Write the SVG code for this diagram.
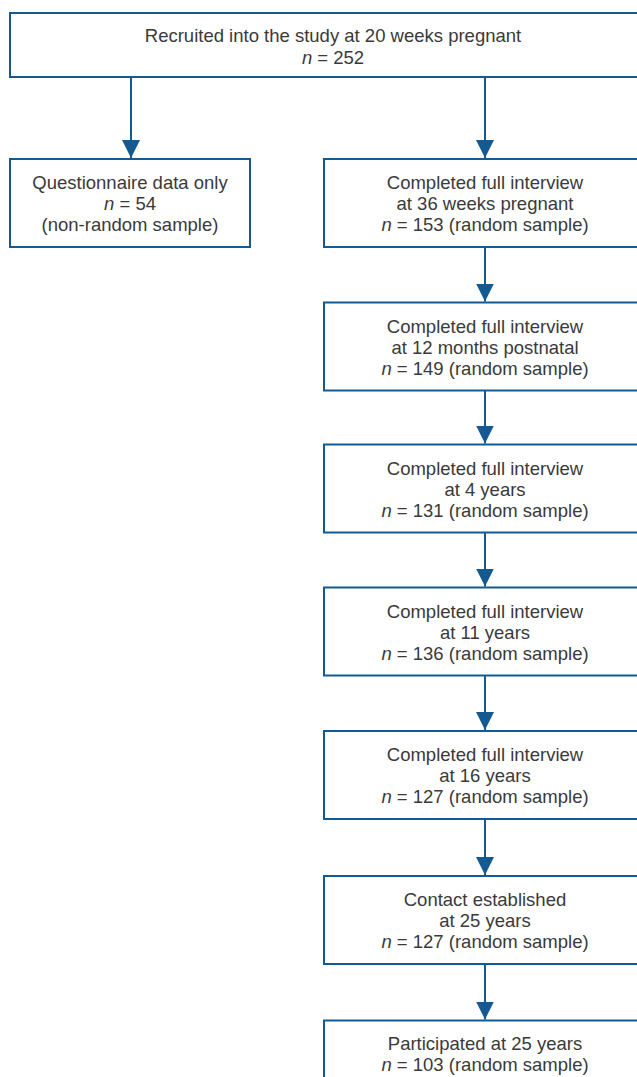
<svg xmlns="http://www.w3.org/2000/svg" width="637" height="1077" viewBox="0 0 637 1077">
<style>
.box{fill:#fff;stroke:#135a92;stroke-width:2}
.t{font-family:"Liberation Sans",Arial,sans-serif;font-size:18.5px;fill:#3a3a3a;text-anchor:middle}
.i{font-style:italic}
.c{stroke:#135a92;stroke-width:2;fill:none;marker-end:url(#ah)}
</style>
<defs>
<marker id="ah" markerUnits="userSpaceOnUse" markerWidth="18" markerHeight="18" refX="16" refY="8" orient="auto" viewBox="0 0 16 16">
<path d="M0,0 L16,8 L0,16 Z" fill="#135a92"/>
</marker>
</defs>
<rect width="637" height="1077" fill="#fff"/>
<g id="connectors">
<path class="c" d="M131,77 V158"/>
<path class="c" d="M485,77 V158"/>
<path class="c" d="M485,247 V301.5"/>
<path class="c" d="M485,390.5 V443.5"/>
<path class="c" d="M485,532.5 V586.5"/>
<path class="c" d="M485,675.5 V730"/>
<path class="c" d="M485,819 V875"/>
<path class="c" d="M485,964 V1019.5"/>
</g>
<g id="n0">
<rect class="box" x="10" y="13" width="646" height="64"/>
<text class="t" x="333" y="42">Recruited into the study at 20 weeks pregnant</text>
<text class="t" x="333" y="64"><tspan class="i">n</tspan> = 252</text>
</g>
<g id="n1">
<rect class="box" x="10" y="159" width="240" height="88"/>
<text class="t" x="130" y="189">Questionnaire data only</text>
<text class="t" x="130" y="210"><tspan class="i">n</tspan> = 54</text>
<text class="t" x="130" y="231">(non-random sample)</text>
</g>
<g id="n2">
<rect class="box" x="324" y="159" width="322" height="88"/>
<text class="t" x="485" y="189">Completed full interview</text>
<text class="t" x="485" y="210">at 36 weeks pregnant</text>
<text class="t" x="485" y="231"><tspan class="i">n</tspan> = 153 (random sample)</text>
</g>
<g id="n3">
<rect class="box" x="324" y="302.5" width="322" height="88"/>
<text class="t" x="485" y="332.5">Completed full interview</text>
<text class="t" x="485" y="353.5">at 12 months postnatal</text>
<text class="t" x="485" y="374.5"><tspan class="i">n</tspan> = 149 (random sample)</text>
</g>
<g id="n4">
<rect class="box" x="324" y="444.5" width="322" height="88"/>
<text class="t" x="485" y="474.5">Completed full interview</text>
<text class="t" x="485" y="495.5">at 4 years</text>
<text class="t" x="485" y="516.5"><tspan class="i">n</tspan> = 131 (random sample)</text>
</g>
<g id="n5">
<rect class="box" x="324" y="587.5" width="322" height="88"/>
<text class="t" x="485" y="617.5">Completed full interview</text>
<text class="t" x="485" y="638.5">at 11 years</text>
<text class="t" x="485" y="659.5"><tspan class="i">n</tspan> = 136 (random sample)</text>
</g>
<g id="n6">
<rect class="box" x="324" y="731" width="322" height="88"/>
<text class="t" x="485" y="761">Completed full interview</text>
<text class="t" x="485" y="782">at 16 years</text>
<text class="t" x="485" y="803"><tspan class="i">n</tspan> = 127 (random sample)</text>
</g>
<g id="n7">
<rect class="box" x="324" y="876" width="322" height="88"/>
<text class="t" x="485" y="906">Contact established</text>
<text class="t" x="485" y="927">at 25 years</text>
<text class="t" x="485" y="948"><tspan class="i">n</tspan> = 127 (random sample)</text>
</g>
<g id="n8">
<rect class="box" x="324" y="1020.5" width="322" height="88"/>
<text class="t" x="485" y="1050">Participated at 25 years</text>
<text class="t" x="485" y="1071"><tspan class="i">n</tspan> = 103 (random sample)</text>
</g>
</svg>
